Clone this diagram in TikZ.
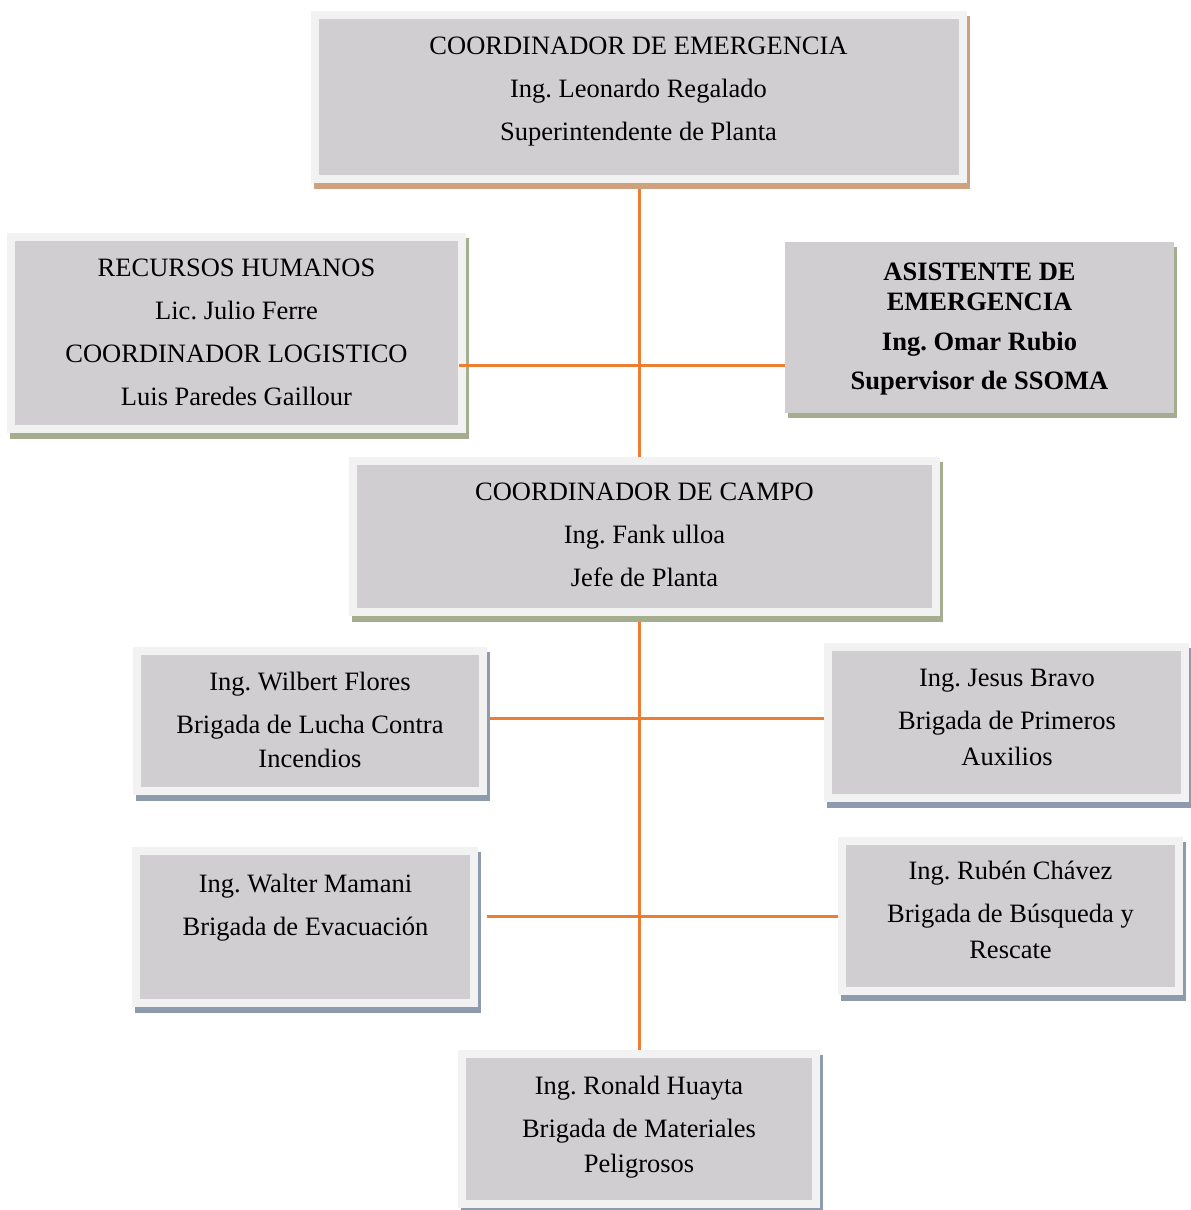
\documentclass[tikz,border=0pt]{standalone}
\usepackage{fontspec}
\setmainfont{Liberation Serif}
\usetikzlibrary{fit}
\frenchspacing
\pgfdeclarelayer{background}
\pgfsetlayers{background,main}
\definecolor{framecol}{RGB}{242,242,242}
\definecolor{boxgray}{RGB}{208,206,208}
\definecolor{shtan}{RGB}{207,161,127}
\definecolor{shgreen}{RGB}{165,173,143}
\definecolor{shblue}{RGB}{141,155,172}
\definecolor{linecol}{RGB}{237,125,49}
\tikzset{
  innerbox/.style={rectangle, fill=boxgray, inner sep=0pt, draw=none},
  label text/.style={anchor=base, align=center, inner sep=0pt,
    font=\fontsize{26.5}{43}\selectfont},
  conn/.style={draw=linecol, line width=3pt},
}
% #1 name, #2 x1, #3 y1, #4 x2, #5 y2 (outer frame), #6 shadow colour
\newcommand\orgbox[6]{%
  \fill[#6] (#2+3,#3+5) rectangle (#4+3,#5+6);
  \fill[framecol] (#2,#3) rectangle (#4,#5);
  \node[innerbox, fit={(#2+8,#3+8) (#4-8,#5-8)}] (#1) {};
}
\begin{document}
\begin{tikzpicture}[x=1pt,y=-1pt]
\useasboundingbox (0,0) rectangle (1191,1210);

\orgbox{top}{311}{11}{967}{183}{shtan}
\orgbox{rh}{7}{233}{466}{433}{shgreen}
\fill[shgreen] (788,247) rectangle (1177,418);
\node[innerbox, fit={(785,242) (1174,413)}] (asis) {};
\orgbox{campo}{349}{457}{940}{616}{shgreen}
\orgbox{wil}{133}{647}{487}{795}{shblue}
\orgbox{jes}{824}{643}{1189}{802}{shblue}
\orgbox{wal}{132}{847}{478}{1007}{shblue}
\orgbox{rub}{838}{837}{1183}{995}{shblue}
\orgbox{ron}{458}{1050}{820}{1208}{shblue}

% anchor=base is the baseline of the last line
\node[label text] (ttop) at (638.5,140)
  {COORDINADOR DE EMERGENCIA\\Ing. Leonardo Regalado\\Superintendente de Planta};
\node[label text] (trh) at (236.5,405)
  {RECURSOS HUMANOS\\Lic. Julio Ferre\\COORDINADOR LOGISTICO\\Luis Paredes Gaillour};
\node[label text, font=\fontsize{26.5}{39}\selectfont\bfseries] (tasis) at (979.5,389)
  {ASISTENTE DE\\[-9pt]EMERGENCIA\\[1pt]Ing. Omar Rubio\\Supervisor de SSOMA};
\node[label text] (tcampo) at (644.5,586)
  {COORDINADOR DE CAMPO\\Ing. Fank ulloa\\Jefe de Planta};
\node[label text] (twil) at (310,767)
  {Ing. Wilbert Flores\\Brigada de Lucha Contra\\[-9pt]Incendios};
\node[label text] (tjes) at (1007,765)
  {Ing. Jesus Bravo\\Brigada de Primeros\\[-7pt]Auxilios};
\node[label text] (twal) at (305.5,935)
  {Ing. Walter Mamani\\Brigada de Evacuación};
\node[label text] (trub) at (1010.5,958)
  {Ing. Rubén Chávez\\Brigada de Búsqueda y\\[-7pt]Rescate};
\node[label text] (tron) at (639,1172)
  {Ing. Ronald Huayta\\Brigada de Materiales\\[-8pt]Peligrosos};

\coordinate (j1) at (639,365);
\coordinate (j2) at (639,718);
\coordinate (j3) at (639,916);
% line from the HR box starts on its frame
\draw[conn] ([xshift=1pt]rh.east |- j1) -- (j1);
\begin{pgfonlayer}{background}
  \draw[conn] (top.center -| j1) -- (campo.center -| j1);
  \draw[conn] (j1) -- (asis.center |- j1);
  \draw[conn] (campo.center -| j2) -- (ron.center -| j2);
  \draw[conn] (wil.center |- j2) -- (jes.center |- j2);
  \draw[conn] ([xshift=17pt]wal.east |- j3) -- (rub.center |- j3);
\end{pgfonlayer}
\end{tikzpicture}
\end{document}
